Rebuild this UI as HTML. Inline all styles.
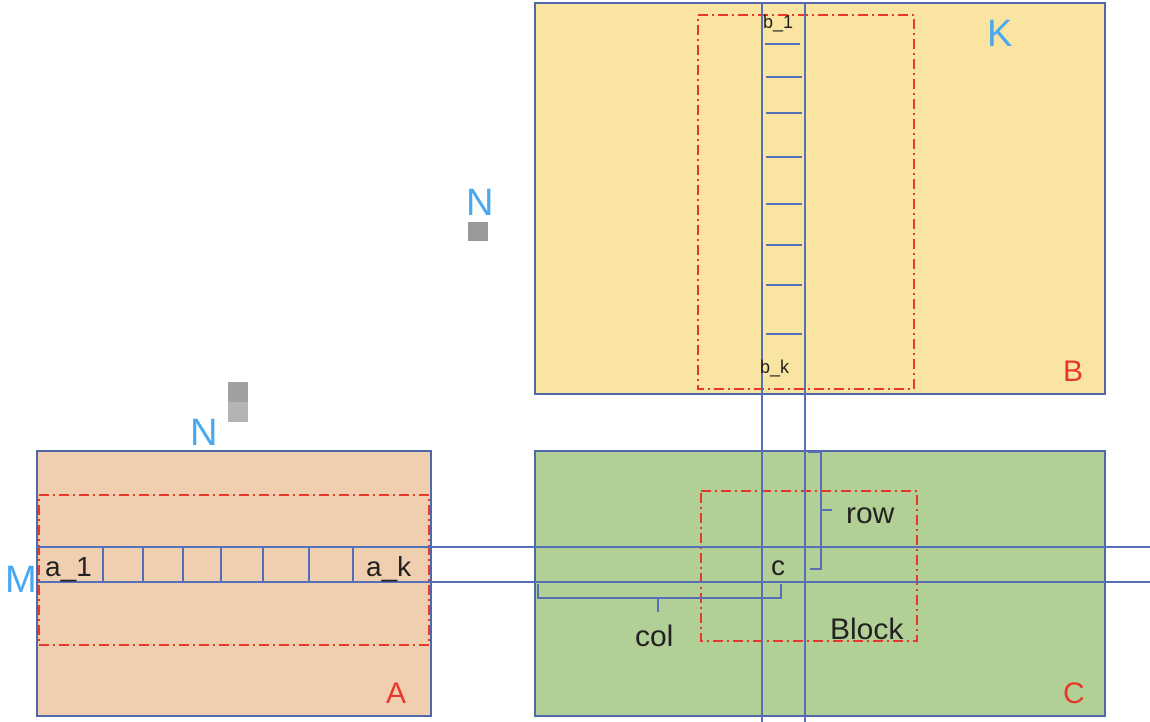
<!DOCTYPE html>
<html><head><style>body{margin:0;background:#fff}svg{display:block}text{font-family:"Liberation Sans",sans-serif}</style></head>
<body>
<svg width="1150" height="722" viewBox="0 0 1150 722">
<rect x="535" y="3" width="570" height="391" fill="#f9e4a1" stroke="#5068a8" stroke-width="2"/>
<rect x="535" y="451" width="570" height="265" fill="#b2d096" stroke="#5068a8" stroke-width="2"/>
<rect x="37" y="451" width="394" height="265" fill="#f0ceb0" stroke="#5068a8" stroke-width="2"/>
<g fill="none" stroke="#e8382c" stroke-width="2" stroke-dasharray="10,4,2,4">
<rect x="698" y="15" width="216" height="374"/>
<rect x="701" y="491" width="216" height="150"/>
<rect x="39" y="495" width="390" height="150"/>
</g>
<g stroke="#5570b8" stroke-width="2" fill="none">
<line x1="762" y1="3" x2="762" y2="722"/>
<line x1="805" y1="3" x2="805" y2="722"/>
<line x1="37" y1="547" x2="1150" y2="547"/>
<line x1="37" y1="582" x2="1150" y2="582"/>
<line x1="103" y1="547" x2="103" y2="582"/><line x1="143" y1="547" x2="143" y2="582"/>
<line x1="183" y1="547" x2="183" y2="582"/><line x1="221" y1="547" x2="221" y2="582"/>
<line x1="263" y1="547" x2="263" y2="582"/><line x1="309" y1="547" x2="309" y2="582"/>
<line x1="353" y1="547" x2="353" y2="582"/>
<line x1="765" y1="44" x2="800" y2="44"/><line x1="766" y1="77" x2="802" y2="77"/>
<line x1="766" y1="113" x2="802" y2="113"/><line x1="766" y1="157" x2="802" y2="157"/>
<line x1="766" y1="204" x2="802" y2="204"/><line x1="766" y1="245" x2="802" y2="245"/>
<line x1="766" y1="285" x2="802" y2="285"/><line x1="766" y1="334" x2="802" y2="334"/>
<path d="M808 452 H821 V569 H810 M821 510 H832"/>
<path d="M538 584 V598 H658 V612 M658 598 H781 V584"/>
</g>
<rect x="468" y="222" width="20" height="19" fill="#999"/>
<rect x="228" y="382" width="20" height="20" fill="#a0a0a0"/>
<rect x="228" y="402" width="20" height="20" fill="#b4b4b4"/>
<g fill="#4aa8f0" font-size="38">
<text x="466" y="215">N</text>
<text x="190" y="445">N</text>
<text x="5" y="592">M</text>
<text x="987" y="46">K</text>
</g>
<g fill="#e8382c" font-size="30">
<text x="1063" y="381">B</text>
<text x="386" y="703">A</text>
<text x="1063" y="703">C</text>
</g>
<g fill="#222">
<text x="763" y="28" font-size="18">b_1</text>
<text x="760" y="373" font-size="18">b_k</text>
<text x="45" y="576" font-size="28">a_1</text>
<text x="366" y="576" font-size="28">a_k</text>
<text x="771" y="575" font-size="28">c</text>
<text x="846" y="523" font-size="30">row</text>
<text x="635" y="646" font-size="30">col</text>
<text x="830" y="639" font-size="30">Block</text>
</g>
</svg>
</body></html>
